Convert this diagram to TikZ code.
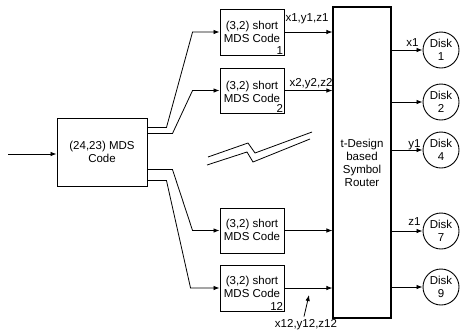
\documentclass[tikz,border=0pt]{standalone}
\usepackage{fontspec}
\setmainfont{Liberation Sans}
\usetikzlibrary{arrows.meta,calc}
\begin{document}
\begin{tikzpicture}[x=1pt,y=-1pt,
  every node/.style={font=\fontsize{11.5}{13}\selectfont,align=center},
  box/.style={draw,line width=0.9pt,minimum width=64pt,minimum height=46pt,inner sep=0pt},
  disk/.style={draw,line width=0.9pt,circle,minimum size=36pt,inner sep=0pt},
  arr/.style={line width=0.8pt,-{Latex[length=6pt,width=4.5pt]}},
  lbl/.style={inner sep=0pt},
  num/.style={inner sep=1.2pt,anchor=south east}]
\useasboundingbox (0,0) rectangle (460,333);
% boxes
\node[box,minimum width=90pt,minimum height=68pt] (mds) at (102,152) {(24,23) MDS\\Code};
\node[box] (b1) at (252,32) {};
\node[box,minimum height=45pt] (b2) at (252,90.5) {};
\node[box,minimum height=45pt] (b3) at (252,230.5) {};
\node[box] (b4) at (252,288) {};
\node (t1) at (252,32) {(3,2) short\\MDS Code};
\node (t2) at (252,91.5) {(3,2) short\\MDS Code};
\node (t3) at (252,230) {(3,2) short\\MDS Code};
\node (t4) at (252,287) {(3,2) short\\MDS Code};
\node[num] (n1) at (b1.south east) {1};
\node[num] (n2) at (b2.south east) {2};
\node[num] (n12) at (b4.south east) {12};
\node[draw,line width=1.2pt,minimum width=58pt,minimum height=311pt,inner sep=0pt] (rt) at (362,162.5) {};
\node (rtt) at (362,163) {t-Design\\based\\Symbol\\Router};
% disks
\node[disk] (d1) at (441,50) {Disk\\1};
\node[disk] (d2) at (441,102) {Disk\\2};
\node[disk] (d4) at (441,150) {Disk\\4};
\node[disk] (d7) at (441,231) {Disk\\7};
\node[disk] (d9) at (441,287) {Disk\\9};
% input
\coordinate (in) at (8,154);
\draw[arr] (in) -- (in -| mds.west);
% mds to short codes
\draw[arr] ($(mds.north east)+(0,10)$) -- ++(19,0) -- ($(b1.west)+(-27,0)$) -- (b1.west);
\draw[arr] ($(mds.north east)+(0,16)$) -- ++(25,0) -- ($(b2.west)+(-27,0)$) -- (b2.west);
\draw[arr] ($(mds.south east)+(0,-17)$) -- ++(25,0) -- ($(b3.west)+(-27,0)$) -- (b3.west);
\draw[arr] ($(mds.south east)+(0,-6)$) -- ++(19,0) -- ($(b4.west)+(-29,0)$) -- (b4.west);
% short codes to router
\draw[arr] (b1.east) -- (b1.east -| rt.west);
\draw[arr] (b2.east) -- (b2.east -| rt.west);
\draw[arr] (b3.east) -- (b3.east -| rt.west);
\draw[arr] (b4.east) -- (b4.east -| rt.west);
\node[lbl] (l1) at (307,19) {x1,y1,z1};
\node[lbl] (l2) at (311,84) {x2,y2,z2};
\node[lbl] (l12) at (306,325) {x12,y12,z12};
\coordinate (ptr) at (309,295);
\draw[arr] ($(l12.north)+(-2,-3)$) -- (ptr);
% router to disks
\draw[arr] (d1.west -| rt.east) -- (d1.west);
\draw[arr] (d2.west -| rt.east) -- (d2.west);
\draw[arr] (d4.west -| rt.east) -- (d4.west);
\draw[arr] (d7.west -| rt.east) -- (d7.west);
\draw[arr] (d9.west -| rt.east) -- (d9.west);
\node[lbl] (lx1) at ($(d1.west)+(-10,-7)$) {x1};
\node[lbl] (ly1) at ($(d4.west)+(-8,-5)$) {y1};
\node[lbl] (lz1) at ($(d7.west)+(-8,-9)$) {z1};
% break symbol
\draw[line width=0.8pt] (208,157) -- (248,143) -- (255,153) -- (312,132);
\draw[line width=0.8pt] (207,165) -- (247,152) -- (253,162) -- (310,139);
\end{tikzpicture}
\end{document}
